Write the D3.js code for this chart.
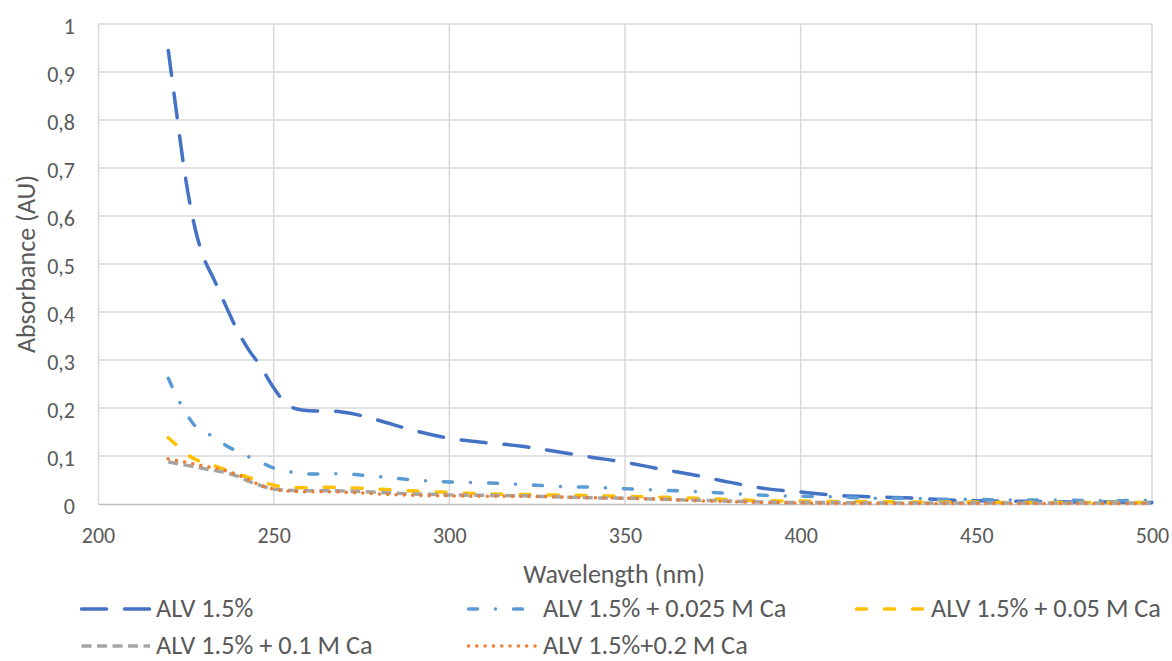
<!DOCTYPE html>
<html>
<head>
<meta charset="utf-8">
<script src="https://cdn.jsdelivr.net/npm/d3@7"></script>
<style>
  html, body { margin: 0; padding: 0; background: #fff; }
  svg { display: block; }
  text { font-family: Carlito, Calibri, Lato, sans-serif; fill: #595959; }
</style>
</head>
<body>
<svg id="chart" width="1172" height="661"></svg>
<script>
// ---- Data ----
const wavelengths = [220,222,225,228,230,233,236,240,243,246,250,254,258,262,266,270,275,280,290,300,310,320,330,340,350,360,370,380,390,400,410,420,430,440,450,460,470,480,490,500];

const alv = [0.945,0.835,0.675,0.563,0.515,0.468,0.419,0.357,0.320,0.290,0.242,0.206,0.196,0.194,0.194,0.191,0.184,0.174,0.153,0.137,0.128,0.121,0.110,0.098,0.087,0.073,0.060,0.045,0.032,0.025,0.018,0.015,0.013,0.009,0.007,0.006,0.005,0.004,0.004,0.003];
const alvCa025 = [0.262,0.230,0.190,0.160,0.152,0.139,0.124,0.108,0.098,0.088,0.075,0.068,0.063,0.0625,0.063,0.063,0.060,0.057,0.050,0.046,0.044,0.041,0.037,0.035,0.032,0.029,0.026,0.022,0.018,0.016,0.015,0.012,0.012,0.010,0.0095,0.0085,0.0083,0.0075,0.007,0.008];
const alvCa05 = [0.138,0.125,0.105,0.092,0.086,0.080,0.072,0.062,0.055,0.048,0.039,0.035,0.034,0.0345,0.0348,0.034,0.033,0.031,0.027,0.024,0.021,0.020,0.0187,0.0175,0.016,0.014,0.012,0.009,0.007,0.006,0.005,0.005,0.004,0.004,0.004,0.003,0.003,0.003,0.003,0.003];
const alvCa1 = [0.088,0.085,0.081,0.077,0.074,0.070,0.066,0.057,0.047,0.039,0.031,0.0285,0.0278,0.0278,0.0278,0.027,0.026,0.024,0.021,0.019,0.018,0.017,0.015,0.013,0.012,0.010,0.008,0.006,0.004,0.003,0.003,0.002,0.002,0.002,0.002,0.002,0.002,0.002,0.002,0.002];
const alvCa2 = [0.094,0.091,0.087,0.082,0.079,0.075,0.070,0.060,0.050,0.040,0.031,0.027,0.0257,0.0257,0.0255,0.0245,0.023,0.021,0.018,0.017,0.016,0.016,0.015,0.013,0.012,0.010,0.007,0.005,0.003,0.002,0.001,0.001,0.001,0.001,0.001,0.001,0.001,0.001,0.001,0.001];

const seriesNames = ["ALV 1.5%", "ALV 1.5% + 0.025 M Ca", "ALV 1.5% + 0.05 M Ca", "ALV 1.5% + 0.1 M Ca", "ALV 1.5%+0.2 M Ca"];
const seriesValues = [alv, alvCa025, alvCa05, alvCa1, alvCa2];

const xTicks = [200,250,300,350,400,450,500];
const yTicks = [0,0.1,0.2,0.3,0.4,0.5,0.6,0.7,0.8,0.9,1];
const xTitle = "Wavelength (nm)";
const yTitle = "Absorbance (AU)";

// ---- Styles ----
const colors = ["#4472C4", "#5B9BD5", "#FFC000", "#A5A5A5", "#ED7D31"];
const dashes = ["25,18", "9,18,0.01,18", "10,18", "10,5.5", "0.01,8.3"];
const caps = ["round", "round", "round", "butt", "round"];
const widths = [3.5, 3.5, 3.5, 3.5, 3.5];
const FONT = "Carlito, Calibri, Lato, sans-serif";
const tickSize = 22, titleSize = 26, legendSize = 26.3;

// ---- Layout ----
const svg = d3.select("#chart");
const plot = { left: 98, right: 1152, top: 24, bottom: 504 };

const x = d3.scaleLinear().domain([200, 500]).range([plot.left, plot.right]);
const y = d3.scaleLinear().domain([0, 1]).range([plot.bottom, plot.top]);

// gridlines
const grid = svg.append("g");
grid.selectAll("line.h").data(yTicks.filter(d => d > 0)).join("line")
  .attr("x1", plot.left).attr("x2", plot.right)
  .attr("y1", d => y(d)).attr("y2", d => y(d))
  .attr("stroke", "#D9D9D9").attr("stroke-width", 1.5);
grid.selectAll("line.v").data(xTicks.filter(d => d > 200)).join("line")
  .attr("y1", plot.top).attr("y2", plot.bottom)
  .attr("x1", d => x(d)).attr("x2", d => x(d))
  .attr("stroke", "#D9D9D9").attr("stroke-width", 1.5);

// axes
const xAxis = svg.append("g").attr("transform", `translate(0,${plot.bottom})`)
  .call(d3.axisBottom(x).tickValues(xTicks).tickSize(0).tickPadding(0).tickFormat(d3.format("d")));
xAxis.select(".domain").attr("stroke", "#BFBFBF").attr("stroke-width", 1.5);
xAxis.selectAll("text").attr("font-size", tickSize).attr("fill", "#595959").attr("font-family", FONT)
  .attr("dy", null).attr("y", 39);

const yAxis = svg.append("g").attr("transform", `translate(${plot.left},0)`)
  .call(d3.axisLeft(y).tickValues(yTicks).tickSize(0).tickPadding(23)
    .tickFormat(d => d === 0 ? "0" : d === 1 ? "1" : d3.format(".1f")(d).replace(".", ",")));
yAxis.select(".domain").attr("stroke", "#D9D9D9").attr("stroke-width", 1.5);
yAxis.selectAll("text").attr("font-size", tickSize).attr("fill", "#595959").attr("font-family", FONT)
  .attr("dy", "0.43em");

// axis titles
svg.append("text").attr("x", 614).attr("y", 583).attr("text-anchor", "middle")
  .attr("font-size", titleSize).text(xTitle);
svg.append("text").attr("transform", `translate(35,264) rotate(-90)`).attr("text-anchor", "middle")
  .attr("font-size", titleSize).text(yTitle);

// lines
const line = d3.line().x(d => x(d[0])).y(d => y(d[1])).curve(d3.curveMonotoneX);
const lines = svg.append("g");
seriesValues.forEach((vals, i) => {
  const pts = wavelengths.map((w, j) => [w, vals[j]]);
  lines.append("path").datum(pts).attr("d", line)
    .attr("fill", "none").attr("stroke", colors[i]).attr("stroke-width", widths[i])
    .attr("stroke-dasharray", dashes[i]).attr("stroke-linecap", caps[i]).attr("stroke-linejoin", "round");
});

// legend: [line x, line y, text baseline]
const legendPos = [[80, 609, 617], [467, 609, 617], [855, 609, 617], [80, 646, 654], [467, 646, 654]];
const legend = svg.append("g");
seriesNames.forEach((name, i) => {
  const [lx, ly, tb] = legendPos[i];
  legend.append("line").attr("x1", lx + 1.5).attr("x2", lx + 70).attr("y1", ly).attr("y2", ly)
    .attr("stroke", colors[i]).attr("stroke-width", widths[i])
    .attr("stroke-dasharray", dashes[i]).attr("stroke-linecap", caps[i]);
  legend.append("text").attr("x", lx + 76).attr("y", tb)
    .attr("font-size", legendSize).text(name);
});
</script>
</body>
</html>
